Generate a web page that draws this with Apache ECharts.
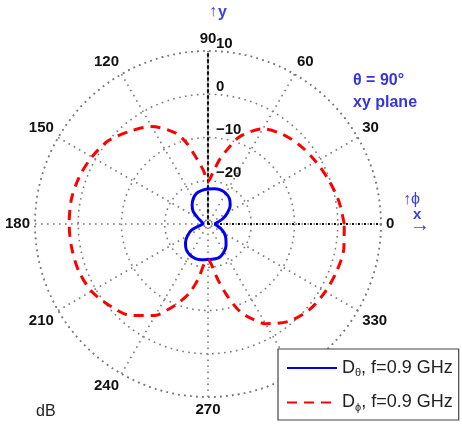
<!DOCTYPE html>
<html><head><meta charset="utf-8">
<script src="https://cdn.jsdelivr.net/npm/echarts@6/dist/echarts.min.js"></script>
<style>html,body{margin:0;padding:0;background:#fff}#c{width:462px;height:428px}</style>
</head><body><div id="c"></div>
<script>
// angle (deg) and gain (dB)
const phiRed = [0,10,20,30,40,50,60,70,75,80,85,90,95,100,105,110,120,130,140,150,160,170,180,190,200,210,220,230,240,245,250,255,260,265,270,275,280,285,290,295,300,310,320,330,340,350,360];
const dPhi   = [1.5,0.7,-0.3,-1.2,-2.0,-3.0,-4.6,-8.5,-11.9,-15,-18.3,-20.2,-17.5,-14.5,-10.5,-7.5,-4.0,-2.0,0,1.0,1.7,2.1,2.1,2.0,1.8,1.1,-0.5,-2.4,-5.6,-8.2,-10.8,-13.5,-17.2,-21,-21.8,-20.5,-17,-12.8,-8.5,-5.8,-3.4,-0.7,0.7,1.3,1.7,1.9,1.5];
const phiBlue = [0,10,20,30,40,50,60,70,80,90,100,110,120,130,140,150,160,170,180,190,200,210,220,230,240,250,260,270,280,290,300,310,320,330,340,350,360];
const dTheta  = [-28.5,-27.8,-26.3,-24.8,-23.3,-22.3,-21.8,-21.6,-21.7,-21.9,-22.1,-22.4,-23.2,-24.3,-25.5,-27.4,-28.4,-28.7,-28.8,-28.2,-26,-24.5,-23.2,-22.2,-21.7,-21.5,-21.6,-21.8,-21.8,-21.9,-22.6,-23.5,-24.6,-25.6,-26.8,-27.9,-28.5];
const radiusTicks = [-30,-20,-10,0,10];
const angleTicks = [0,30,60,90,120,150,180,210,240,270,300,330];
const nameTheta = 'Dθ, f=0.9 GHz';
const namePhi = 'Dϕ, f=0.9 GHz';

// angle axis runs from 90 to 450 so that the radius axis sits at the top
const wrap = a => (a < 90 ? a + 360 : a);
const toData = (phis, vals) => phis.map((p, i) => [vals[i], wrap(p)]);

const chart = echarts.init(document.getElementById('c'));
const grid = { type: [1.6, 4.4], color: '#7a7a7a', width: 1.6 };
chart.setOption({
  animation: false,
  textStyle: { fontFamily: 'Liberation Sans, Arial, sans-serif' },
  polar: { center: [208, 224], radius: 173 },
  angleAxis: {
    type: 'value', min: 90, max: 450, interval: 30, startAngle: 90, clockwise: false,
    axisLine: { show: true, lineStyle: grid },
    axisTick: { show: false },
    splitLine: { show: true, lineStyle: grid },
    axisLabel: { margin: 5, color: '#111', fontSize: 15, fontWeight: 'bold',
      formatter: v => (v >= 450 ? '' : String(v % 360)) }
  },
  radiusAxis: {
    type: 'value', min: radiusTicks[0], max: radiusTicks[radiusTicks.length - 1], interval: 10,
    axisLine: { show: true, lineStyle: { color: '#111', type: [2, 4], width: 2.2 } },
    axisTick: { show: false },
    splitLine: { show: true, lineStyle: grid },
    axisLabel: { color: '#111', fontSize: 15, fontWeight: 'bold', margin: -8, align: 'left', verticalAlign: 'bottom',
      formatter: v => (v === -30 ? '' : String(v).replace('-', '\u2212')) }
  },
  legend: {
    orient: 'vertical', left: 278, top: 349,
    data: [nameTheta, namePhi],
    itemWidth: 50, itemHeight: 14, itemGap: 15,
    padding: [10, 6, 7, 8],
    borderColor: '#444', borderWidth: 1.2, backgroundColor: '#fff',
    itemStyle: { opacity: 0 },
    formatter: n => n === nameTheta ? '{a|D}{s|θ}{a|, f=0.9 GHz}' : '{a|D}{s|ϕ}{a|, f=0.9 GHz}',
    textStyle: { rich: {
      a: { fontSize: 18, color: '#222', fontFamily: 'Liberation Sans, Arial' },
      s: { fontSize: 11, color: '#222', verticalAlign: 'bottom', padding: [10, 0, 0, 0] }
    } }
  },
  series: [
    { type: 'line', name: 'xaxis', coordinateSystem: 'polar', symbol: 'none', silent: true,
      data: [[radiusTicks[0], 360], [radiusTicks[radiusTicks.length - 1], 360]],
      lineStyle: { color: '#111', type: [2, 4], width: 2.2 } },
    { type: 'line', name: nameTheta, coordinateSystem: 'polar', symbol: 'none', smooth: 0.3,
      data: toData(phiBlue, dTheta), lineStyle: { color: '#0000ee', width: 3 }, itemStyle: { color: '#0000ee' } },
    { type: 'line', name: namePhi, coordinateSystem: 'polar', symbol: 'none', smooth: 0.3,
      data: toData(phiRed, dPhi), lineStyle: { color: '#ff0000', width: 3, type: [10, 7] }, itemStyle: { color: '#ff0000' } }
  ],
  graphic: [
    { type: 'text', left: 209, top: 4, style: { text: '↑', fontSize: 16, fill: '#4040e0' } },
    { type: 'text', left: 218, top: 5, style: { text: 'y', fontSize: 16, fontWeight: 'bold', fill: '#4040e0' } },
    { type: 'text', left: 353, top: 73, style: { text: 'θ = 90°', fontSize: 16, fontWeight: 'bold', fill: '#3535e0' } },
    { type: 'text', left: 353, top: 95, style: { text: 'xy plane', fontSize: 16, fontWeight: 'bold', fill: '#3535e0' } },
    { type: 'text', left: 403, top: 192, style: { text: '↑ϕ', fontSize: 16, fill: '#4040e0' } },
    { type: 'text', left: 413, top: 207, style: { text: 'x', fontSize: 15, fontWeight: 'bold', fill: '#4040e0' } },
    { type: 'text', left: 410, top: 215, style: { text: '→', fontSize: 20, fill: '#4040e0' } },
    { type: 'text', left: 36, top: 404, style: { text: 'dB', fontSize: 16, fill: '#222' } }
  ]
});
</script></body></html>
